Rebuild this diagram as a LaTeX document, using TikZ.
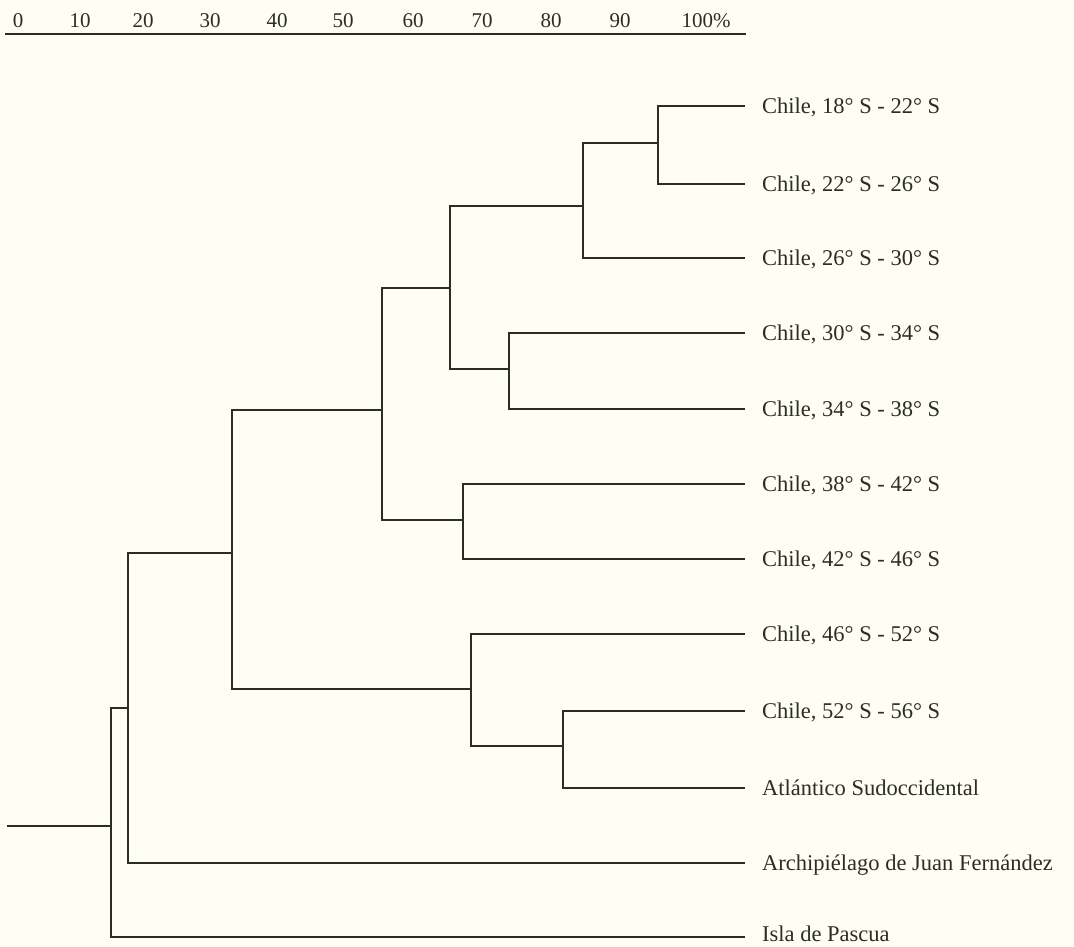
\documentclass[tikz,border=0pt]{standalone}
\usepackage{fontspec}
\setmainfont{Liberation Serif}
\definecolor{bg}{RGB}{254,254,244}
\definecolor{ink}{RGB}{45,45,40}
\begin{document}
\begin{tikzpicture}[x=1pt,y=-1pt,
  tree/.style={draw=ink,line width=1.7pt},
  leaf/.style={anchor=west,inner xsep=17pt,inner ysep=0pt,text height=14.9pt,text depth=0pt,font=\fontsize{22.5}{27}\selectfont,text=ink},
  tick/.style={inner sep=0pt,text height=14.5pt,text depth=0pt,font=\fontsize{21}{25}\selectfont,text=ink}]
\fill[bg] (0,0) rectangle (1074,946);
\useasboundingbox (0,0) rectangle (1074,946);

% axis
\coordinate (ax0) at (5,34);
\coordinate (ax1) at (746,34);
\draw[tree] (ax0) -- (ax1);
\node[tick] (t0) at (18,20) {0};
\node[tick] (t10) at (80,20) {10};
\node[tick] (t20) at (143,20) {20};
\node[tick] (t30) at (210,20) {30};
\node[tick] (t40) at (277,20) {40};
\node[tick] (t50) at (343,20) {50};
\node[tick] (t60) at (413,20) {60};
\node[tick] (t70) at (482,20) {70};
\node[tick] (t80) at (551,20) {80};
\node[tick] (t90) at (620,20) {90};
\node[tick] (t100) at (706,20) {100\%};

% leaves
\node[leaf] (l1) at (745,106) {Chile, 18° S - 22° S};
\node[leaf] (l2) at (745,184) {Chile, 22° S - 26° S};
\node[leaf] (l3) at (745,258) {Chile, 26° S - 30° S};
\node[leaf] (l4) at (745,333) {Chile, 30° S - 34° S};
\node[leaf] (l5) at (745,409) {Chile, 34° S - 38° S};
\node[leaf] (l6) at (745,484) {Chile, 38° S - 42° S};
\node[leaf] (l7) at (745,559) {Chile, 42° S - 46° S};
\node[leaf] (l8) at (745,634) {Chile, 46° S - 52° S};
\node[leaf] (l9) at (745,711) {Chile, 52° S - 56° S};
\node[leaf] (l10) at (745,788) {Atlántico Sudoccidental};
\node[leaf] (l11) at (745,863) {Archipiélago de Juan Fernández};
\node[leaf,text depth=6pt] (l12) at (745,937) {Isla de Pascua};

% internal nodes
\coordinate (stub) at (7,826);
\coordinate (root) at (111,826);
\coordinate (A) at (128,708);
\coordinate (B) at (232,553);
\coordinate (C) at (382,410);
\coordinate (D) at (471,689);
\coordinate (E) at (450,288);
\coordinate (F) at (463,520);
\coordinate (G) at (583,206);
\coordinate (H) at (509,369);
\coordinate (I) at (658,143);
\coordinate (J) at (563,746);

\draw[tree] (stub) -- (root);
\draw[tree] (root) |- (A);
\draw[tree] (root) |- (l12.west);
\draw[tree] (A) |- (B);
\draw[tree] (A) |- (l11.west);
\draw[tree] (B) |- (C);
\draw[tree] (B) |- (D);
\draw[tree] (C) |- (E);
\draw[tree] (C) |- (F);
\draw[tree] (E) |- (G);
\draw[tree] (E) |- (H);
\draw[tree] (G) |- (I);
\draw[tree] (G) |- (l3.west);
\draw[tree] (I) |- (l1.west);
\draw[tree] (I) |- (l2.west);
\draw[tree] (H) |- (l4.west);
\draw[tree] (H) |- (l5.west);
\draw[tree] (F) |- (l6.west);
\draw[tree] (F) |- (l7.west);
\draw[tree] (D) |- (l8.west);
\draw[tree] (D) |- (J);
\draw[tree] (J) |- (l9.west);
\draw[tree] (J) |- (l10.west);
\end{tikzpicture}
\end{document}
